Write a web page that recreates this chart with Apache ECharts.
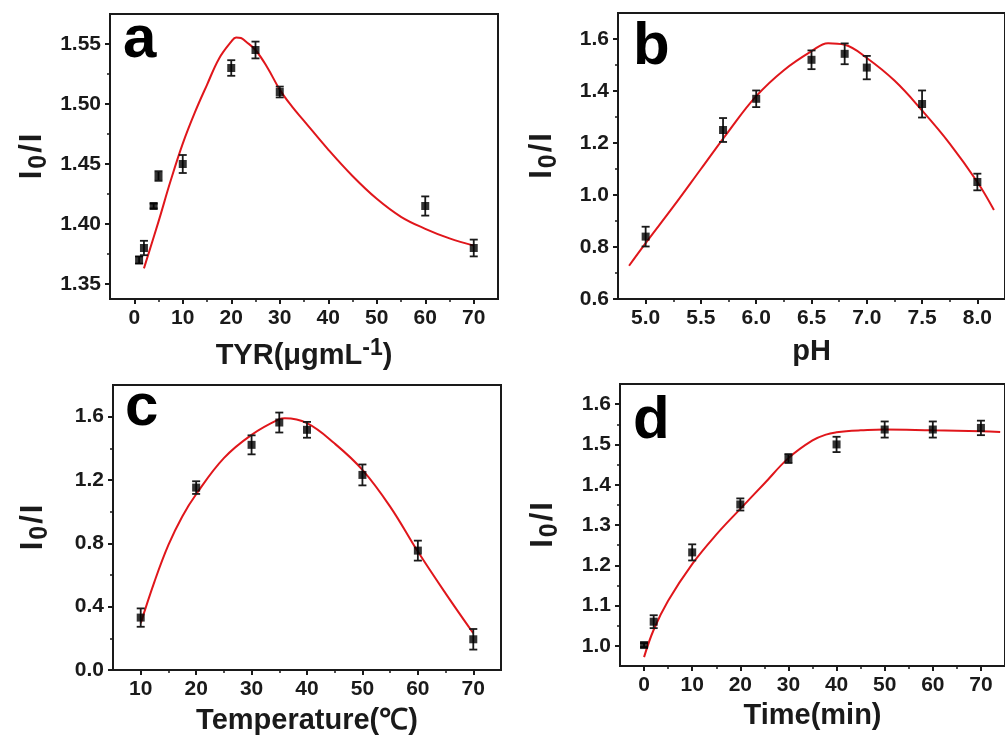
<!DOCTYPE html>
<html>
<head>
<meta charset="utf-8">
<script src="https://cdn.jsdelivr.net/npm/echarts@6/dist/echarts.min.js"></script>
<style>html,body{margin:0;padding:0;background:#fff}#c{width:1005px;height:738px}</style>
</head>
<body>
<div id="c"></div>
<script>
// ---------- Panel a: TYR concentration ----------
const aX    = [1, 2, 4, 5, 10, 20, 25, 30, 60, 70];
const aY    = [1.370, 1.380, 1.415, 1.440, 1.450, 1.530, 1.545, 1.510, 1.415, 1.380];
const aErr  = [0.003, 0.006, 0.002, 0.004, 0.0075, 0.0065, 0.007, 0.0045, 0.008, 0.007];
const aFitX = [2, 5, 7.5, 10, 12.5, 15, 17.5, 20, 21, 22, 23, 25, 27.5, 30, 32.5, 35, 40, 45, 50, 55, 60, 65, 70];
const aFitY = [1.363, 1.402, 1.436, 1.467, 1.493, 1.516, 1.538, 1.552, 1.5555, 1.555, 1.552, 1.545, 1.530, 1.512, 1.498, 1.486, 1.462, 1.440, 1.421, 1.406, 1.396, 1.388, 1.382];
const aXTicks = [0, 10, 20, 30, 40, 50, 60, 70];
const aXMinor = [5, 15, 25, 35, 45, 55, 65];
const aYTicks = [1.35, 1.40, 1.45, 1.50, 1.55];
const aYMinor = [1.375, 1.425, 1.475, 1.525];

// ---------- Panel b: pH ----------
const bX    = [5.0, 5.7, 6.0, 6.5, 6.8, 7.0, 7.5, 8.0];
const bY    = [0.84, 1.25, 1.37, 1.52, 1.543, 1.49, 1.35, 1.05];
const bErr  = [0.038, 0.046, 0.032, 0.036, 0.04, 0.045, 0.052, 0.032];
const bFitX = [4.85, 5.0, 5.25, 5.5, 5.75, 6.0, 6.25, 6.5, 6.65, 6.8, 7.0, 7.25, 7.5, 7.75, 8.0, 8.15];
const bFitY = [0.728, 0.815, 0.955, 1.100, 1.245, 1.380, 1.480, 1.553, 1.584, 1.578, 1.527, 1.440, 1.325, 1.198, 1.050, 0.942];
const bXTicks = [5.0, 5.5, 6.0, 6.5, 7.0, 7.5, 8.0];
const bXMinor = [5.25, 5.75, 6.25, 6.75, 7.25, 7.75];
const bYTicks = [0.6, 0.8, 1.0, 1.2, 1.4, 1.6];
const bYMinor = [0.7, 0.9, 1.1, 1.3, 1.5];

// ---------- Panel c: Temperature ----------
const cX    = [10, 20, 30, 35, 40, 50, 60, 70];
const cY    = [0.331, 1.152, 1.422, 1.563, 1.517, 1.232, 0.754, 0.194];
const cErr  = [0.058, 0.04, 0.06, 0.063, 0.05, 0.066, 0.063, 0.065];
const cFitX = [10, 12.5, 15, 17.5, 20, 25, 30, 35, 36, 40, 45, 50, 55, 60, 65, 70];
const cFitY = [0.295, 0.560, 0.790, 0.970, 1.110, 1.338, 1.485, 1.584, 1.590, 1.559, 1.430, 1.264, 1.032, 0.748, 0.484, 0.232];
const cXTicks = [10, 20, 30, 40, 50, 60, 70];
const cXMinor = [15, 25, 35, 45, 55, 65];
const cYTicks = [0.0, 0.4, 0.8, 1.2, 1.6];
const cYMinor = [0.2, 0.6, 1.0, 1.4];

// ---------- Panel d: Time ----------
const dX    = [0, 2, 10, 20, 30, 40, 50, 60, 70];
const dY    = [1.002, 1.060, 1.232, 1.351, 1.465, 1.500, 1.537, 1.537, 1.541];
const dErr  = [0.005, 0.016, 0.02, 0.015, 0.011, 0.019, 0.02, 0.02, 0.018];
const dFitX = [0, 2, 5, 10, 15, 20, 25, 30, 35, 38, 40, 42, 45, 50, 60, 70, 74];
const dFitY = [0.972, 1.040, 1.112, 1.203, 1.276, 1.340, 1.403, 1.466, 1.510, 1.525, 1.530, 1.533, 1.535, 1.537, 1.535, 1.533, 1.531];
const dXTicks = [0, 10, 20, 30, 40, 50, 60, 70];
const dXMinor = [5, 15, 25, 35, 45, 55, 65];
const dYTicks = [1.0, 1.1, 1.2, 1.3, 1.4, 1.5, 1.6];
const dYMinor = [1.05, 1.15, 1.25, 1.35, 1.45, 1.55];

const FONT = '"Liberation Sans", Arial, sans-serif';
const INK = '#1a1a1a';
const RED = '#e0161b';

const panels = [
  { letter: 'a', lx: 123, ly: 50, grid: {left: 110, top: 14, width: 388, height: 285},
    xr: [-5, 75], yr: [1.3375, 1.575], xt: aXTicks, xm: aXMinor, yt: aYTicks, ym: aYMinor, xd: 0, yd: 2,
    xName: 'TYR(μgmL{sup|-1})', xGap: 38, yGap: 58,
    px: aX, py: aY, pe: aErr, fx: aFitX, fy: aFitY },
  { letter: 'b', lx: 633, ly: 57, grid: {left: 618, top: 13, width: 389, height: 286},
    xr: [4.75, 8.25], yr: [0.6, 1.7], xt: bXTicks, xm: bXMinor, yt: bYTicks, ym: bYMinor, xd: 1, yd: 1,
    xName: 'pH', xGap: 38, yGap: 56,
    px: bX, py: bY, pe: bErr, fx: bFitX, fy: bFitY },
  { letter: 'c', lx: 125, ly: 418, grid: {left: 113, top: 385, width: 388, height: 285},
    xr: [5, 75], yr: [0, 1.8], xt: cXTicks, xm: cXMinor, yt: cYTicks, ym: cYMinor, xd: 0, yd: 1,
    xName: 'Temperature(℃)', xGap: 36, yGap: 60,
    px: cX, py: cY, pe: cErr, fx: cFitX, fy: cFitY },
  { letter: 'd', lx: 633, ly: 431, grid: {left: 620, top: 384, width: 388, height: 282},
    xr: [-5, 75], yr: [0.95, 1.65], xt: dXTicks, xm: dXMinor, yt: dYTicks, ym: dYMinor, xd: 0, yd: 1,
    xName: 'Time(min)', xGap: 35, yGap: 57,
    px: dX, py: dY, pe: dErr, fx: dFitX, fy: dFitY }
];

const grid = [], xAxis = [], yAxis = [], series = [], graphic = [];
const labelStyle = (d) => ({
  show: true, fontFamily: FONT, fontWeight: 'bold', fontSize: 21, color: INK, margin: 9,
  formatter: v => Number(v).toFixed(d)
});

panels.forEach((p, i) => {
  grid.push(Object.assign({ show: true, borderColor: INK, borderWidth: 2, backgroundColor: 'transparent' }, p.grid));
  const xi = xAxis.length, yi = yAxis.length;
  xAxis.push({
    type: 'value', gridIndex: i, min: p.xr[0], max: p.xr[1], position: 'bottom',
    axisLine: { show: true, onZero: false, lineStyle: { color: INK, width: 2 } },
    axisTick: { show: true, customValues: p.xt, length: 5, lineStyle: { color: INK, width: 2 } },
    axisLabel: Object.assign({ customValues: p.xt }, labelStyle(p.xd)),
    splitLine: { show: false },
    name: p.xName, nameLocation: 'middle', nameGap: p.xGap,
    nameTextStyle: { fontFamily: FONT, fontWeight: 'bold', fontSize: 29, color: INK,
      rich: { sup: { fontFamily: FONT, fontWeight: 'bold', fontSize: 23, color: INK, padding: [0, 0, 14, 0] } } }
  });
  xAxis.push({
    type: 'value', gridIndex: i, min: p.xr[0], max: p.xr[1], position: 'bottom',
    axisLine: { show: false, onZero: false },
    axisTick: { show: true, customValues: p.xm, length: 3, lineStyle: { color: INK, width: 1.5 } },
    axisLabel: { show: false }, splitLine: { show: false }
  });
  yAxis.push({
    type: 'value', gridIndex: i, min: p.yr[0], max: p.yr[1], position: 'left',
    axisLine: { show: true, onZero: false, lineStyle: { color: INK, width: 2 } },
    axisTick: { show: true, customValues: p.yt, length: 5, lineStyle: { color: INK, width: 2 } },
    axisLabel: Object.assign({ customValues: p.yt }, labelStyle(p.yd)),
    splitLine: { show: false },
    name: 'I{sub|0}{sl|/}I', nameLocation: 'middle', nameGap: p.yGap, nameRotate: 90,
    nameTextStyle: { fontFamily: FONT, fontWeight: 'bold', fontSize: 31, color: INK,
      rich: {
        sub: { fontFamily: FONT, fontWeight: 'bold', fontSize: 25, color: INK, padding: [15, 1, 0, 2] },
        sl: { fontFamily: FONT, fontWeight: 'bold', fontSize: 31, color: INK, padding: [0, 2, 0, 1] }
      } }
  });
  yAxis.push({
    type: 'value', gridIndex: i, min: p.yr[0], max: p.yr[1], position: 'left',
    axisLine: { show: false, onZero: false },
    axisTick: { show: true, customValues: p.ym, length: 3, lineStyle: { color: INK, width: 1.5 } },
    axisLabel: { show: false }, splitLine: { show: false }
  });

  series.push({
    type: 'line', xAxisIndex: xi, yAxisIndex: yi, smooth: 0.4, symbol: 'none',
    lineStyle: { color: RED, width: 2 }, silent: true, z: 2,
    data: p.fx.map((x, k) => [x, p.fy[k]])
  });
  series.push({
    type: 'custom', xAxisIndex: xi, yAxisIndex: yi, z: 3, silent: true,
    data: p.px.map((x, k) => [x, p.py[k], p.pe[k]]),
    renderItem: (params, api) => {
      const x = api.value(0), y = api.value(1), e = api.value(2);
      const t = api.coord([x, y + e]), b = api.coord([x, y - e]);
      const w = 4;
      const st = { stroke: INK, lineWidth: 1.8 };
      return { type: 'group', children: [
        { type: 'line', shape: { x1: t[0], y1: t[1], x2: b[0], y2: b[1] }, style: st },
        { type: 'line', shape: { x1: t[0] - w, y1: t[1], x2: t[0] + w, y2: t[1] }, style: st },
        { type: 'line', shape: { x1: b[0] - w, y1: b[1], x2: b[0] + w, y2: b[1] }, style: st }
      ]};
    }
  });
  series.push({
    type: 'scatter', xAxisIndex: xi, yAxisIndex: yi, symbol: 'rect', symbolSize: 8, z: 4, silent: true,
    itemStyle: { color: '#000' },
    data: p.px.map((x, k) => [x, p.py[k]])
  });

  graphic.push({
    type: 'text', left: p.lx, top: p.ly - 40, z: 10,
    style: { text: p.letter, fontFamily: FONT, fontWeight: 'bold', fontSize: 60, fill: '#000' }
  });
});

const chart = echarts.init(document.getElementById('c'), null, { renderer: 'canvas' });
chart.setOption({
  backgroundColor: '#fff',
  animation: false,
  grid, xAxis, yAxis, series, graphic
});
</script>
</body>
</html>
